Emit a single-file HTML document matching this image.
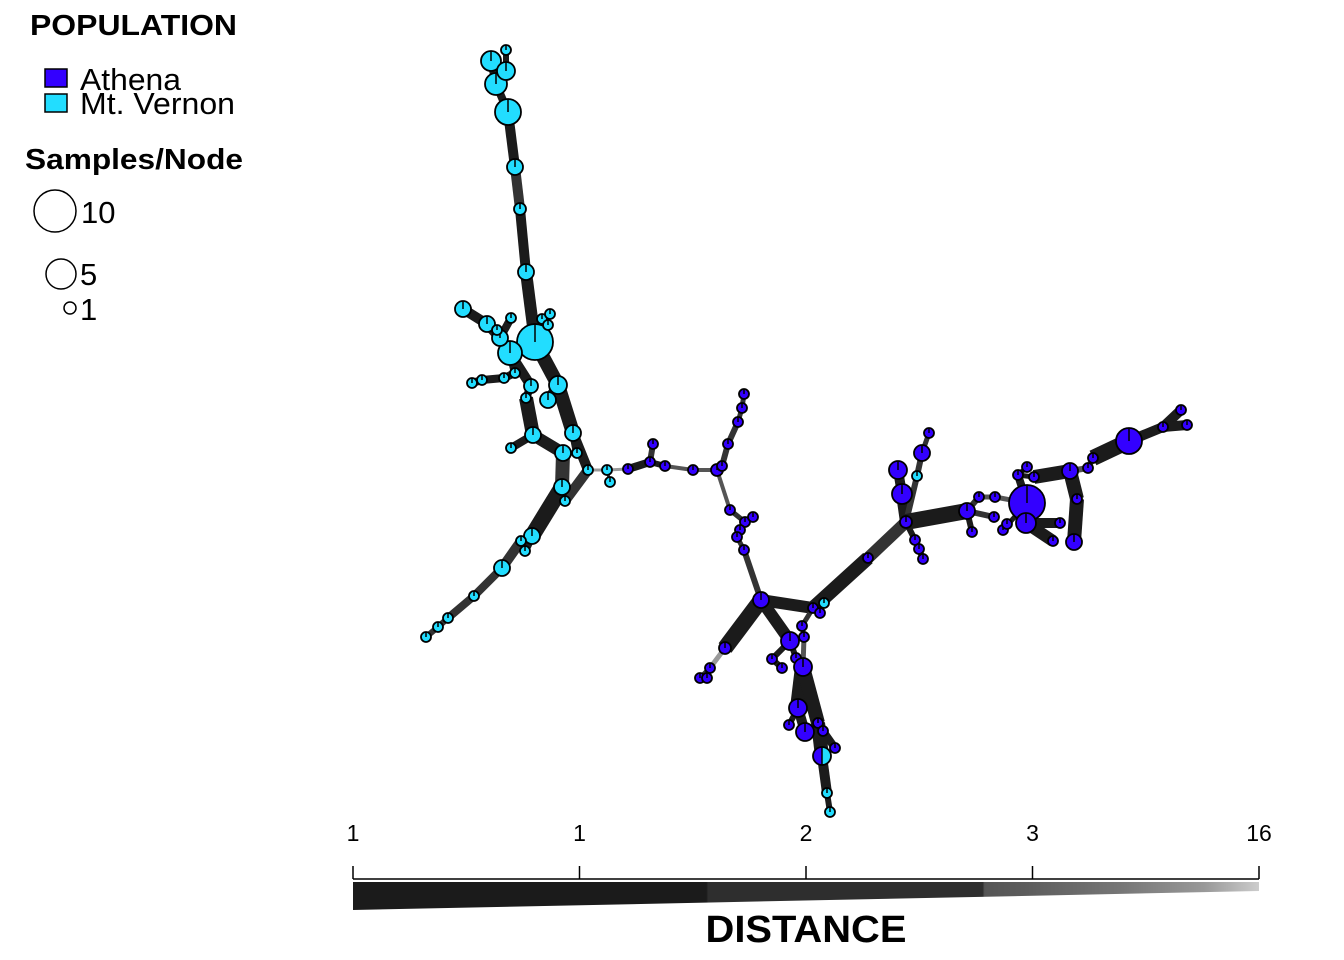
<!DOCTYPE html>
<html><head><meta charset="utf-8"><style>
body{margin:0;background:#fff;width:1344px;height:960px;overflow:hidden}
svg{display:block;font-family:"Liberation Sans",Arial,sans-serif}
</style></head><body>
<svg id="chart" width="1344" height="960">
<g>
<text x="30" y="35" font-size="29" font-weight="bold" textLength="207" lengthAdjust="spacingAndGlyphs">POPULATION</text>
<rect x="45" y="69" width="22" height="18" fill="#3300FF" stroke="#000" stroke-width="1.5"/>
<text x="80" y="90" font-size="31" textLength="101" lengthAdjust="spacingAndGlyphs">Athena</text>
<rect x="45" y="94" width="22" height="18" fill="#22DDFF" stroke="#000" stroke-width="1.5"/>
<text x="80" y="114" font-size="31" textLength="155" lengthAdjust="spacingAndGlyphs">Mt. Vernon</text>
</g>
<g>
<text x="25" y="169" font-size="29" font-weight="bold" textLength="218" lengthAdjust="spacingAndGlyphs">Samples/Node</text>
<circle cx="55" cy="211" r="21" fill="none" stroke="#000" stroke-width="1.5"/>
<text x="81" y="223" font-size="31">10</text>
<circle cx="61" cy="274" r="15" fill="none" stroke="#000" stroke-width="1.5"/>
<text x="80" y="285" font-size="31">5</text>
<circle cx="70" cy="308" r="6" fill="none" stroke="#000" stroke-width="1.5"/>
<text x="80" y="320" font-size="31">1</text>
</g>
<g id="edges"></g>
<g id="nodes"></g>
<g>
<defs><linearGradient id="dg" x1="0" x2="1" y1="0" y2="0">
<stop offset="0" stop-color="#1b1b1b"/><stop offset="0.39" stop-color="#1b1b1b"/>
<stop offset="0.392" stop-color="#2e2e2e"/><stop offset="0.695" stop-color="#2e2e2e"/>
<stop offset="0.697" stop-color="#555"/><stop offset="0.74" stop-color="#5c5c5c"/>
<stop offset="0.85" stop-color="#777"/><stop offset="0.94" stop-color="#999"/>
<stop offset="1" stop-color="#ccc"/></linearGradient></defs>
<polygon points="353,882 1259,882 1259,891 353,910" fill="url(#dg)"/>
<line x1="353" y1="879" x2="1259" y2="879" stroke="#000" stroke-width="1.5"/>
<g id="ticks"></g>
<text x="806" y="942" font-size="38" font-weight="bold" text-anchor="middle" textLength="201" lengthAdjust="spacingAndGlyphs">DISTANCE</text>
</g>
</svg>
<script>
const NS="http://www.w3.org/2000/svg";
const nodeX=[535,526,520,515,508,496,491,506,506,510,500,487,463,511,497,542,550,548,515,504,482,472,531,526,533,511,558,548,573,563,577,588,562,565,532,521,525,502,474,448,438,426,607,610,628,650,653,665,693,717,722,728,738,742,744,730,745,753,740,737,744,761,813,824,820,790,802,804,772,782,796,803,725,710,700,707,798,789,805,818,823,835,822,827,830,868,906,902,898,917,922,929,915,919,923,967,972,979,995,1027,994,1003,1007,1026,1018,1027,1034,1070,1077,1074,1060,1053,1088,1093,1129,1163,1181,1187];
const nodeY=[342,272,209,167,112,84,61,71,50,353,338,324,309,318,330,319,314,325,373,378,380,383,386,398,435,448,385,400,433,453,453,470,487,501,536,541,551,568,596,618,627,637,470,482,469,462,444,466,470,470,466,444,422,408,394,510,522,517,530,537,550,600,608,603,613,641,626,637,659,668,658,667,648,668,678,678,708,725,732,723,731,748,756,793,812,558,522,494,470,476,453,433,540,549,559,511,532,497,497,503,517,530,524,523,475,467,477,471,499,542,523,541,468,458,441,427,410,425];
const nodeSize=[18,8,6,8,13,11,10,9,5,12,8,8,8,5,5,5,5,5,5,5,5,5,7,5,8,5,9,8,8,8,5,5,8,5,8,5,5,8,5,5,5,5,5,5,5,5,5,5,5,6,5,5,5,5,5,5,5,5,5,5,5,8,5,5,5,9,5,5,5,5,5,9,6,5,5,5,9,5,9,5,5,5,9,5,5,5,6,10,9,5,8,5,5,5,5,8,5,5,5,18,5,5,5,10,5,5,5,8,5,8,5,5,5,5,13,5,5,5];
const nodePop=("CCCCCCCCCC CCCCCCCCCC CCCCCCCCCC CCCCCCCCCC CCCC "+
 "AAAAAAAAAA AAAAAAAAA C AAAAAAAAAA AAAAAAAA H CC AAAA C "+
 "AAAAAAAAAA AAAAAAAAAA AAAAAAAA").replace(/ /g,"").split("");
const edgeParent=[-1,0,1,2,3,4,5,5,7,0,9,10,11,10,10,0,15,0,9,18,19,20,9,22,23,24,0,26,26,24,28,28,29,31,32,34,34,35,37,38,39,40,31,42,42,44,45,45,47,48,49,50,51,52,53,49,55,56,56,58,59,60,61,62,62,61,62,66,65,68,65,67,61,72,73,73,71,76,76,71,79,80,79,82,83,62,85,86,87,86,89,90,86,92,93,86,95,95,97,98,95,99,101,99,99,104,104,106,107,108,103,103,107,112,113,114,115,115];
const edgeWidth=[0,12,10,10,10,8,8,8,6,14,10,10,10,8,6,6,6,6,8,8,8,8,10,8,14,8,14,10,14,12,8,10,14,10,16,8,8,10,8,8,6,6,3,3,3,8,6,6,4,4,4,6,6,5,5,4,5,5,5,5,5,6,12,5,5,12,5,5,6,6,6,5,16,5,5,5,16,6,10,14,8,8,14,10,6,14,12,12,10,6,6,5,6,6,6,16,6,6,5,5,6,5,5,10,8,5,5,14,14,14,10,12,6,6,16,10,10,10];
const edgeShade=[0,0,0,1,0,0,0,0,0,0,0,0,0,0,0,0,0,0,0,0,0,0,0,0,0,0,0,0,0,0,0,0,1,1,0,0,0,1,1,1,1,1,3,1,3,0,1,0,2,2,1,1,1,1,1,2,1,1,1,1,1,1,0,0,0,0,1,2,0,0,0,2,0,3,1,1,0,0,0,0,0,0,0,0,0,0,1,0,0,1,1,1,0,0,0,0,0,1,2,2,1,0,0,0,0,0,0,0,0,0,0,0,2,2,0,0,0,0];
const tickLabels=["1","1","2","3","16"];
const shades=["#1b1b1b","#333","#555","#999"];
const popColor={A:"#3300FF",C:"#22DDFF"};
const eg=document.getElementById("edges"),ng=document.getElementById("nodes");
for(let i=0;i<nodeX.length;i++){const p=edgeParent[i];if(p<0)continue;
 const l=document.createElementNS(NS,"line");
 l.setAttribute("x1",nodeX[p]);l.setAttribute("y1",nodeY[p]);l.setAttribute("x2",nodeX[i]);l.setAttribute("y2",nodeY[i]);
 l.setAttribute("stroke",shades[edgeShade[i]]);l.setAttribute("stroke-width",edgeWidth[i]);
 
 
 eg.appendChild(l);}
for(let i=0;i<nodeX.length;i++){const x=nodeX[i],y=nodeY[i],r=nodeSize[i],pop=nodePop[i];
 const g=document.createElementNS(NS,"g");
 
 
 if(pop==="H"){
  const a=document.createElementNS(NS,"path");a.setAttribute("d",`M${x},${y-r}A${r},${r} 0 0 0 ${x},${y+r}Z`);a.setAttribute("fill",popColor.A);g.appendChild(a);
  const b=document.createElementNS(NS,"path");b.setAttribute("d",`M${x},${y-r}A${r},${r} 0 0 1 ${x},${y+r}Z`);b.setAttribute("fill",popColor.C);g.appendChild(b);
  const c=document.createElementNS(NS,"circle");c.setAttribute("cx",x);c.setAttribute("cy",y);c.setAttribute("r",r);c.setAttribute("fill","none");c.setAttribute("stroke","#000");c.setAttribute("stroke-width","1.8");g.appendChild(c);
  const ln=document.createElementNS(NS,"line");ln.setAttribute("x1",x);ln.setAttribute("y1",y-r);ln.setAttribute("x2",x);ln.setAttribute("y2",y+r);ln.setAttribute("stroke","#000");ln.setAttribute("stroke-width","1.5");g.appendChild(ln);
 }else{
  const c=document.createElementNS(NS,"circle");c.setAttribute("cx",x);c.setAttribute("cy",y);c.setAttribute("r",r);c.setAttribute("fill",popColor[pop]);c.setAttribute("stroke","#000");c.setAttribute("stroke-width","1.8");g.appendChild(c);
  const ln=document.createElementNS(NS,"line");ln.setAttribute("x1",x);ln.setAttribute("y1",y);ln.setAttribute("x2",x);ln.setAttribute("y2",y-r);ln.setAttribute("stroke","#000");ln.setAttribute("stroke-width","1.5");g.appendChild(ln);
 }
 ng.appendChild(g);}
const tg=document.getElementById("ticks");
tickLabels.forEach((t,i)=>{const x=353+i*(1259-353)/(tickLabels.length-1);
 const l=document.createElementNS(NS,"line");l.setAttribute("x1",x);l.setAttribute("x2",x);l.setAttribute("y1",866);l.setAttribute("y2",879);l.setAttribute("stroke","#000");l.setAttribute("stroke-width","1.5");
 
 
 tg.appendChild(l);
 const tx=document.createElementNS(NS,"text");tx.setAttribute("x",x);tx.setAttribute("y",841);tx.setAttribute("font-size","23");tx.setAttribute("text-anchor","middle");tx.textContent=t;
 
 
 tg.appendChild(tx);});
</script>
</body></html>
